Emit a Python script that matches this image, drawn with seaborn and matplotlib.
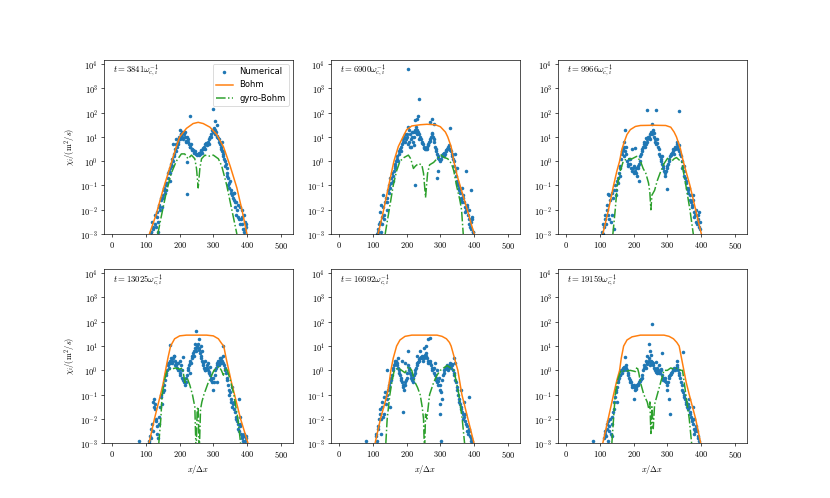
"""
plot.py - chi_i profiles: numerical vs Bohm / gyro-Bohm, six time slices
"""

import numpy as np
import matplotlib
matplotlib.use("Agg")
import matplotlib.pyplot as plt
from matplotlib.ticker import FixedLocator, FuncFormatter, NullLocator
import seaborn as sns

plt.rcParams["mathtext.fontset"] = "cm"

nan = np.nan

# ── Data (log10 of chi_i in m^2/s) ─────────────────────────────────────────────
TIMES = [3841, 6900, 9966, 13025, 16092, 19159]

XGRID = [100, 104, 108, 112, 116, 120, 124, 128, 132, 136,
         140, 144, 148, 152, 156, 160, 164, 168, 172, 176,
         180, 184, 188, 192, 196, 200, 204, 208, 212, 216,
         220, 224, 228, 232, 236, 240, 244, 248, 252, 256,
         260, 264, 268, 272, 276, 280, 284, 288, 292, 296,
         300, 304, 308, 312, 316, 320, 324, 328, 332, 336,
         340, 344, 348, 352, 356, 360, 364, 368, 372, 376,
         380, 384, 388, 392, 396, 400]
XGRID2 = [102, 106, 110, 114, 118, 122, 126, 130, 134, 138,
          142, 146, 150, 154, 158, 162, 166, 170, 174, 178,
          182, 186, 190, 194, 198, 202, 206, 210, 214, 218,
          222, 226, 230, 234, 238, 242, 246, 250, 254, 258,
          262, 266, 270, 274, 278, 282, 286, 290, 294, 298,
          302, 306, 310, 314, 318, 322, 326, 330, 334, 338,
          342, 346, 350, 354, 358, 362, 366, 370, 374, 378,
          382, 386, 390, 394, 398]

# panel 1: t = 3841
NUM1 = [nan, nan, nan, nan, -2.9, -2.7, nan, -2.6, -2.3, -2.9,
        -1.8, -1.5, -1.9, -1.2, -1.3, -0.9, -0.7, -0.4, -0.5, -0.2,
        0.0, 0.3, 0.4, 0.6, 0.8, 0.9, 1.1, 1.2, 1.1, 1.0,
        0.85, 0.9, 0.7, 0.6, 0.5, 0.45, 0.35, 0.3, 0.25, 0.35,
        0.3, 0.4, 0.5, 0.6, 0.7, 0.65, 0.8, 0.9, 1.1, 1.3,
        1.25, 1.3, 1.2, 1.0, 0.9, 0.7, 0.5, 0.3, 0.1, -0.2,
        -0.5, -0.7, -1.1, -1.2, -1.4, -1.6, -1.9, -2.2, -1.8, -2.4,
        -2.6, -2.3, -2.8, -2.9, -2.7, nan]
NUM1B = [nan, nan, nan, -2.9, -2.5, -2.8, -2.2, -2.7, -2.1, -1.9,
         -2.0, -1.6, -1.4, -1.1, -1.0, -0.9, -0.5, -0.3, -0.1, 0.1,
         0.2, 0.5, 0.7, 0.7, 1.0, 1.0, 1.0, 0.9, 1.2, 0.8,
         1.0, 0.8, 0.6, 0.7, 0.45, 0.4, 0.4, 0.3, 0.3, 0.25,
         0.45, 0.35, 0.55, 0.5, 0.75, 0.7, 0.7, 1.0, 1.0, 1.2,
         1.35, 1.1, 1.05, 0.95, 0.8, 0.6, 0.4, 0.2, 0.0, -0.1,
         -0.6, -0.9, -0.8, -1.3, -1.5, -1.3, -1.7, -2.0, -2.3, -1.9,
         -2.4, -2.6, -2.2, -2.8, -2.6]
EXTRA1_X = [230, 300, 306, 222, 222, 200, 310, 205, 190, 180, 330, 340,
            150, 135, 360, 345, 365, 385, 395, 170, 160, 325, 290, 215]
EXTRA1_Y = [1.85, 2.15, 1.65, -1.35, -0.05, 1.3, 1.5, 1.1, 0.9, 0.7, 0.4, -0.3,
            -1.5, -2.5, -1.3, -1.0, -1.7, -2.0, -2.5, -0.8, -1.2, 0.8, 1.0, 1.2]
BOHM1_X = [110, 130, 150, 170, 190, 200, 220, 240, 255, 270, 290, 310, 330, 350, 370, 385, 400]
BOHM1_Y = [-3.0, -2.2, -1.2, -0.3, 0.6, 1.0, 1.35, 1.55, 1.6, 1.55, 1.4, 1.1, 0.6, -0.2, -1.1, -2.0, -3.0]
GB1_X = [135, 145, 160, 175, 190, 205, 215, 225, 235, 245, 250, 255, 260, 265, 275, 285,
         300, 315, 325, 340, 355, 370]
GB1_Y = [-3.0, -2.3, -1.3, -0.5, 0.0, 0.3, 0.3, 0.1, 0.25, 0.1, -0.3, -1.1, -0.3, 0.1, 0.25, 0.2,
         0.25, 0.1, -0.2, -1.0, -2.0, -3.0]

# panel 2: t = 6900
NUM2 = [nan, nan, nan, -3.0, -2.9, -2.5, -1.8, -2.3, -2.4, -1.7,
        -1.5, -1.2, -1.0, -0.9, -0.5, -0.6, -0.2, 0.0, 0.2, 0.3,
        0.5, 0.6, 0.9, 1.0, 0.8, 1.1, 0.7, 1.3, 0.6, 1.0,
        0.8, 1.2, 1.4, 1.3, 1.1, 1.0, 0.8, 0.7, 0.55, 0.5,
        0.6, 0.7, 0.9, 1.0, 1.15, 0.9, 0.6, 0.4, 0.2, 0.1,
        0.0, 0.2, 0.3, 0.2, 0.4, 0.5, 0.6, 0.5, 0.4, 0.2,
        0.0, -0.4, -0.8, -1.0, -1.2, -1.5, -1.7, -1.4, -1.9, -2.0,
        -1.8, -2.4, -2.7, -2.5, -2.9, nan]
NUM2B = [nan, nan, nan, -2.8, -2.6, -2.1, -2.6, -1.9, -2.2, -1.5,
         -1.7, -1.3, -1.1, -0.7, -0.8, -0.4, -0.1, 0.1, 0.0, 0.4,
         0.4, 0.7, 0.8, 1.1, 0.9, 1.0, 0.8, 1.1, 0.9, 1.2,
         1.0, 1.3, 1.1, 1.2, 0.9, 0.9, 0.75, 0.6, 0.5, 0.55,
         0.65, 0.8, 0.85, 1.1, 1.0, 0.8, 0.5, 0.3, 0.15, 0.05,
         0.1, 0.25, 0.35, 0.3, 0.45, 0.55, 0.65, 0.45, 0.3, 0.1,
         -0.2, -0.6, -0.9, -1.1, -1.3, -1.6, -1.5, -1.7, -2.1, -1.9,
         -2.2, -2.6, -2.8, -2.4, -2.9]
EXTRA2_X = [203, 238, 235, 232, 225, 205, 215, 276, 270, 280, 330, 210, 222, 224,
            260, 290, 293, 390, 376, 130, 150, 165, 345, 350, 365, 385, 395, 140, 125]
EXTRA2_Y = [3.8, 2.55, 1.85, 1.75, 1.7, 1.4, 1.2, 1.75, 1.6, 1.55, 1.35, 0.6, 0.65, -1.0,
            0.5, -0.7, -0.4, -1.2, -0.4, -1.4, -0.7, -0.3, 0.3, -0.3, -1.1, -2.0, -2.3, -2.0, -2.9]
BOHM2_X = [115, 130, 145, 162, 175, 189, 200, 215, 240, 260, 285, 300, 315, 322, 332, 340,
           350, 365, 380, 392, 401]
BOHM2_Y = [-3.0, -2.1, -1.1, 0.0, 0.6, 1.0, 1.3, 1.45, 1.5, 1.52, 1.5, 1.42, 1.2, 1.0, 0.6, 0.0,
           -0.6, -1.3, -2.0, -2.6, -3.0]
GB2_X = [136, 148, 160, 170, 180, 192, 205, 212, 220, 226, 235, 245, 250, 256, 262, 268, 280,
         290, 302, 312, 322, 333, 340, 348, 358, 363, 368]
GB2_Y = [-3.0, -2.0, -1.0, -0.4, 0.0, 0.15, 0.25, 0.1, -0.3, -0.2, -0.1, -0.15, -0.5, -1.5, -0.5,
         -0.15, -0.05, 0.1, 0.25, 0.15, 0.1, -0.1, -0.4, -1.0, -1.6, -2.0, -3.0]

# panel 3: t = 9966
NUM3 = [nan, nan, -3.0, -2.7, -2.4, -2.0, -2.2, -1.4, -2.5, -1.3,
        -2.8, -1.0, -1.2, -0.9, -0.5, -0.2, 0.3, 0.5, 0.2, 0.6,
        0.0, -0.2, 0.1, -0.3, 0.5, -0.2, -0.4, -0.5, -0.3, -0.1,
        0.2, 0.4, 0.6, 0.8, 0.7, 0.9, 1.0, 1.1, 1.2, 1.3,
        1.0, 0.8, 0.9, 0.6, 0.3, 0.1, -0.1, -0.3, -0.6, -0.4,
        -0.2, 0.0, 0.2, 0.3, 0.4, 0.3, 0.6, 0.7, 0.5, 0.4,
        0.2, -0.3, -0.4, -0.7, -0.9, -1.3, -1.1, -1.6, -1.9, -1.6,
        -2.3, -2.0, -2.6, -2.2, -2.8, nan]
NUM3B = [nan, -2.9, -2.6, -2.2, -2.6, -1.8, -2.4, -1.6, -2.2, -1.5,
         -1.2, -1.4, -0.8, -0.7, -0.3, 0.1, 0.4, 0.6, 0.4, 0.3,
         -0.1, 0.1, -0.1, -0.4, -0.3, -0.5, -0.3, -0.6, -0.2, 0.0,
         0.3, 0.5, 0.7, 0.6, 0.8, 1.0, 0.95, 1.15, 1.1, 1.2,
         0.9, 0.7, 0.75, 0.5, 0.2, 0.0, -0.2, -0.4, -0.5, -0.3,
         -0.1, 0.1, 0.25, 0.35, 0.5, 0.5, 0.55, 0.6, 0.65, 0.3,
         0.0, -0.2, -0.6, -0.8, -1.1, -1.2, -1.4, -1.7, -1.8, -2.1,
         -2.2, -2.5, -2.4, -2.7, -2.5]
EXTRA3_X = [240, 265, 335, 253, 175, 205, 215, 300, 248, 260, 236, 285, 330, 170,
            125, 160, 350, 375, 395]
EXTRA3_Y = [2.1, 2.1, 2.05, 1.55, 1.3, 0.55, -0.8, -1.15, 0.9, 1.15, 0.95, 0.2, 0.8, 0.8,
            -1.35, -0.6, -0.2, -1.4, -2.1]
BOHM3_X = [108, 125, 140, 150, 158, 165, 172, 180, 190, 205, 220, 260, 295, 310, 320, 327,
           333, 339, 347, 357, 367, 384, 401]
BOHM3_Y = [-3.0, -2.0, -1.0, -0.4, 0.0, 0.5, 0.8, 1.1, 1.3, 1.43, 1.47, 1.48, 1.47, 1.4, 1.2, 1.0,
           0.75, 0.5, 0.0, -0.5, -1.0, -2.0, -3.0]
GB3_X = [138, 145, 151, 160, 169, 180, 195, 209, 220, 228, 236, 244, 248, 251, 254, 258, 262,
         270, 278, 290, 302, 313, 320, 327, 335, 342, 355, 367, 377]
GB3_Y = [-3.0, -2.0, -1.0, -0.4, 0.0, 0.1, 0.1, 0.2, 0.0, -0.3, -0.5, -0.9, -1.3, -2.0, -1.4, -1.3,
         -1.2, -0.8, -0.5, -0.1, 0.15, 0.0, 0.1, 0.15, 0.05, 0.0, -1.0, -2.0, -3.0]

# panel 4: t = 13025
NUM4 = [nan, nan, -3.0, -2.7, -2.8, -2.5, -1.2, -1.6, -2.3, -2.8,
        -1.9, -1.1, -1.4, -0.8, -0.4, -0.1, 0.2, 0.1, 0.4, 0.3,
        0.5, 0.6, 0.3, 0.1, 0.0, -0.1, 0.2, -0.3, -0.5, -0.6,
        -0.3, 0.0, 0.2, 0.4, 0.5, 0.7, 0.8, 0.9, 1.0, 0.9,
        0.7, 0.5, 0.3, 0.1, 0.0, 0.2, 0.0, -0.1, -0.3, -0.5,
        -0.8, -0.2, 0.1, 0.3, 0.2, 0.4, 0.3, 0.6, 0.2, 0.0,
        -0.3, -0.6, -1.0, -1.2, -1.5, -1.3, -1.7, -2.0, -2.2, -2.5,
        -2.3, -2.7, -2.9, -2.6, -2.8, nan]
NUM4B = [nan, nan, -2.9, -2.4, -2.2, -1.3, -1.4, -2.0, -2.6, -2.2,
         -1.5, -1.0, -0.9, -0.6, -0.2, 0.0, 0.3, 0.3, 0.5, 0.4,
         0.6, 0.4, 0.2, 0.3, 0.0, -0.2, 0.0, -0.4, -0.4, -0.5,
         -0.2, 0.1, 0.3, 0.3, 0.6, 0.6, 0.9, 0.8, 1.1, 0.85,
         0.6, 0.4, 0.2, 0.0, 0.1, 0.1, -0.05, -0.2, -0.4, -0.3,
         -0.5, 0.0, 0.2, 0.4, 0.3, 0.5, 0.4, 0.3, 0.1, -0.1,
         -0.4, -0.8, -0.9, -1.3, -1.4, -1.6, -1.9, -2.1, -2.4, -2.2,
         -2.6, -2.8, -2.7, -2.9, -2.7]
EXTRA4_X = [80, 170, 250, 258, 245, 262, 330, 210, 200, 185, 275, 285, 290, 310, 320,
            125, 130, 380, 375, 355, 230, 265]
EXTRA4_Y = [-2.9, 1.05, 1.6, 1.3, 1.1, 1.0, 1.0, 0.55, 0.4, 0.2, 0.4, 0.3, 0.15, -0.5, 0.5,
            -1.5, -2.1, -1.9, -1.2, -0.7, -0.1, 0.8]
BOHM4_X = [109, 125, 143, 150, 158, 165, 173, 185, 200, 220, 280, 300, 315, 325, 331, 338,
           346, 354, 363, 381, 403]
BOHM4_Y = [-3.0, -2.0, -1.0, -0.6, 0.0, 0.5, 1.0, 1.3, 1.42, 1.45, 1.45, 1.42, 1.3, 1.1, 1.0, 0.5,
           0.0, -0.5, -1.0, -2.0, -3.0]
GB4_X = [138, 144, 148, 155, 163, 175, 188, 200, 208, 216, 222, 230, 238, 245, 249, 252, 255,
         258, 262, 266, 272, 285, 302, 310, 317, 324, 330, 336, 342, 352, 361, 373, 381]
GB4_Y = [-3.0, -2.0, -1.0, -0.4, 0.0, 0.05, 0.1, 0.05, 0.1, -0.5, -0.3, -0.6, -1.0, -1.5, -3.5,
         -1.6, -1.5, -3.5, -1.6, -1.3, -1.0, -0.5, 0.0, 0.1, 0.15, 0.0, -0.2, 0.1, 0.0, -0.5,
         -1.0, -2.0, -3.0]

# panel 5: t = 16092
NUM5 = [nan, nan, -2.6, -2.9, -2.3, -1.6, -2.0, -1.3, -1.8, -0.9,
        -1.2, -0.8, -0.6, -0.4, -0.2, 0.1, 0.3, 0.4, 0.2, 0.0,
        -0.2, -0.4, -0.6, -0.8, -0.5, -0.3, 0.2, 0.0, -0.2, -0.4,
        -0.3, -0.1, 0.1, 0.3, 0.4, 0.5, 0.6, 0.4, 0.6, 0.7,
        0.5, 0.3, 0.4, 0.2, 0.0, 0.1, -0.2, -0.4, -0.6, -0.3,
        -0.8, -1.2, -0.2, 0.0, 0.1, 0.2, 0.0, 0.3, 0.1, 0.2,
        -0.1, -0.4, -0.7, -1.0, -1.3, -1.5, -1.7, -2.0, -1.8, -2.2,
        -2.5, -2.4, -2.7, -2.9, nan, nan]
NUM5B = [nan, nan, -2.7, -2.4, -2.0, -1.8, -1.5, -1.9, -1.1, -1.4,
         -1.0, -0.7, -0.5, -0.3, 0.0, 0.2, 0.4, 0.3, 0.1, -0.1,
         -0.3, -0.5, -0.7, -0.6, -0.4, -0.1, 0.1, -0.1, -0.3, -0.5,
         -0.2, 0.0, 0.2, 0.35, 0.45, 0.55, 0.5, 0.5, 0.65, 0.6,
         0.4, 0.35, 0.3, 0.1, 0.05, -0.1, -0.3, -0.5, -0.45, -0.6,
         -0.9, -0.4, -0.1, 0.05, 0.15, 0.1, 0.15, 0.2, 0.25, 0.0,
         -0.2, -0.5, -0.8, -1.2, -1.4, -1.6, -1.8, -1.9, -2.1, -2.3,
         -2.6, -2.5, -2.8, -2.9, nan]
EXTRA5_X = [80, 140, 190, 205, 195, 262, 268, 258, 250, 240, 300, 303, 300, 385, 345,
            340, 185, 175, 230, 285, 290, 125, 150, 360, 370]
EXTRA5_Y = [-2.9, 0.0, -1.7, 0.8, 0.3, 1.3, 1.35, 1.0, 0.9, 0.8, -1.8, -2.9, -1.4, -1.1, 0.3,
            0.5, 0.4, 0.5, 0.6, 0.3, 0.0, -2.6, -1.5, -0.8, -1.3]
BOHM5_X = [106, 122, 142, 148, 153, 160, 170, 180, 195, 215, 290, 305, 318, 327, 332, 342,
           352, 358, 364, 382, 400]
BOHM5_Y = [-3.0, -2.0, -1.0, -0.5, 0.0, 0.5, 1.0, 1.25, 1.4, 1.45, 1.45, 1.4, 1.3, 1.15, 1.0, 0.5,
           0.0, -0.5, -1.0, -2.0, -3.0]
GB5_X = [138, 142, 150, 157, 163, 175, 185, 195, 205, 215, 225, 232, 240, 246, 250, 253, 256,
         260, 264, 268, 280, 290, 300, 310, 320, 330, 340, 348, 355, 365, 372]
GB5_Y = [-3.0, -2.0, -1.0, -0.4, 0.0, 0.1, 0.0, -0.1, 0.15, 0.0, -0.5, -0.7, -1.0, -1.5, -2.0,
         -3.5, -1.8, -2.0, -1.5, -1.0, -0.5, -0.2, 0.0, 0.1, 0.2, 0.1, 0.0, -0.5, -1.0, -2.0, -3.0]

# panel 6: t = 19159
NUM6 = [nan, nan, nan, -2.8, -2.5, -2.4, -2.1, -2.3, -2.6, -1.9,
        -1.6, -1.1, -0.8, -0.5, -0.3, -0.2, -0.1, 0.1, 0.0, 0.2,
        0.0, -0.2, -0.4, -0.5, -0.7, -0.6, -0.8, -0.7, -0.6, -0.5,
        -0.4, -0.3, 0.0, 0.2, 0.1, 0.3, 0.5, 0.2, 0.4, 0.3,
        0.1, 0.0, -0.1, 0.0, -0.1, 0.0, -0.2, -0.4, -0.3, -0.5,
        -0.8, -0.3, -0.2, -0.1, 0.0, 0.1, 0.0, 0.2, 0.0, -0.2,
        -0.5, -0.8, -1.0, -1.2, -1.4, -1.6, -1.5, -1.8, -2.0, -2.2,
        -2.6, -2.3, -2.5, -2.8, nan, nan]
NUM6B = [nan, nan, nan, -2.6, -2.7, -2.2, -2.5, -2.0, -2.2, -1.7,
         -1.3, -0.9, -0.7, -0.4, -0.2, 0.0, 0.0, 0.15, 0.1, 0.1,
         -0.1, -0.3, -0.5, -0.6, -0.65, -0.7, -0.75, -0.6, -0.55, -0.45,
         -0.35, -0.2, 0.1, 0.15, 0.25, 0.35, 0.4, 0.3, 0.35, 0.2,
         0.05, -0.05, 0.05, -0.05, -0.1, 0.05, -0.3, -0.35, -0.45, -0.6,
         -0.5, -0.25, -0.15, -0.05, 0.05, 0.05, 0.1, 0.15, -0.1, -0.3,
         -0.6, -0.9, -1.1, -1.3, -1.5, -1.4, -1.7, -1.9, -2.1, -2.4,
         -2.5, -2.4, -2.7, -2.9, nan]
EXTRA6_X = [80, 255, 245, 248, 250, 175, 200, 210, 265, 285, 305, 308, 330, 345, 235,
            240, 270, 275, 125, 135, 150, 365, 375, 380]
EXTRA6_Y = [-2.9, 1.9, 1.1, 0.8, 0.65, 0.55, -1.2, -0.6, 0.35, 0.7, -1.2, -1.8, 0.4, 0.75, 0.4,
            0.6, 0.1, 0.2, -2.9, -2.7, -1.3, -1.2, -1.5, -2.0]
BOHM6_X = [108, 124, 140, 150, 158, 163, 170, 180, 195, 220, 290, 305, 318, 328, 335, 342,
           349, 356, 365, 384, 399]
BOHM6_Y = [-3.0, -2.0, -1.0, -0.4, 0.0, 0.5, 1.0, 1.25, 1.38, 1.45, 1.45, 1.4, 1.3, 1.15, 1.0, 0.5,
           0.0, -0.5, -1.0, -2.0, -3.0]
GB6_X = [135, 140, 145, 152, 162, 175, 190, 205, 210, 215, 220, 230, 240, 245, 248, 251, 254,
         258, 262, 270, 280, 290, 300, 310, 320, 330, 340, 345, 350, 355, 365, 372]
GB6_Y = [-3.0, -2.0, -1.0, -0.4, 0.0, -0.05, 0.0, -0.05, 0.15, -0.1, -0.5, -1.0, -1.3, -1.6, -1.3,
         -2.6, -1.5, -2.4, -1.4, -1.0, -0.5, 0.0, 0.0, 0.1, 0.05, 0.1, 0.0, 0.0, -0.5, -1.0, -2.0, -3.0]

NUM = [NUM1, NUM2, NUM3, NUM4, NUM5, NUM6]
NUMB = [NUM1B, NUM2B, NUM3B, NUM4B, NUM5B, NUM6B]
EXTRA_X = [EXTRA1_X, EXTRA2_X, EXTRA3_X, EXTRA4_X, EXTRA5_X, EXTRA6_X]
EXTRA_Y = [EXTRA1_Y, EXTRA2_Y, EXTRA3_Y, EXTRA4_Y, EXTRA5_Y, EXTRA6_Y]
BOHM_X = [BOHM1_X, BOHM2_X, BOHM3_X, BOHM4_X, BOHM5_X, BOHM6_X]
BOHM_Y = [BOHM1_Y, BOHM2_Y, BOHM3_Y, BOHM4_Y, BOHM5_Y, BOHM6_Y]
GB_X = [GB1_X, GB2_X, GB3_X, GB4_X, GB5_X, GB6_X]
GB_Y = [GB1_Y, GB2_Y, GB3_Y, GB4_Y, GB5_Y, GB6_Y]

BLUE, ORANGE, GREEN = "#1f77b4", "#ff7f0e", "#2ca02c"

# ── Figure ─────────────────────────────────────────────────────────────────────
fig, axes = plt.subplots(2, 3, figsize=(830 / 60, 498 / 60), dpi=60)

for k, ax in enumerate(axes.flat):
    ax.set_yscale("log")
    sns.scatterplot(x=XGRID, y=10 ** np.array(NUM[k]), ax=ax, color=BLUE,
                    s=18, linewidth=0, label="Numerical", legend=False)
    sns.scatterplot(x=XGRID2, y=10 ** np.array(NUMB[k]), ax=ax, color=BLUE,
                    s=18, linewidth=0, legend=False)
    sns.scatterplot(x=EXTRA_X[k], y=10 ** np.array(EXTRA_Y[k]), ax=ax, color=BLUE,
                    s=18, linewidth=0, legend=False)
    sns.lineplot(x=BOHM_X[k], y=10 ** np.array(BOHM_Y[k]), ax=ax, color=ORANGE,
                 lw=1.8, sort=False, label="Bohm", legend=False)
    sns.lineplot(x=GB_X[k], y=10 ** np.array(GB_Y[k]), ax=ax, color=GREEN,
                 lw=1.8, ls="-.", sort=False, label="gyro-Bohm", legend=False)

    ax.set_xlim(-25.6, 536.6)
    ax.set_ylim(1e-3, 1.5e4)
    ax.yaxis.set_major_locator(FixedLocator([10.0 ** p for p in range(-3, 5)]))
    ax.yaxis.set_minor_locator(NullLocator())
    ax.yaxis.set_major_formatter(FuncFormatter(lambda v, _: r"$10^{%d}$" % round(np.log10(v))))
    ax.set_xticks([0, 100, 200, 300, 400, 500])
    ax.xaxis.set_major_formatter(FuncFormatter(lambda v, _: r"$%d$" % v))
    ax.text(0.05, 0.935, r"$t = %d\omega_{c,i}^{-1}$" % TIMES[k],
            transform=ax.transAxes, va="center", ha="left", fontsize=10.5)

    ax.set_xlabel(r"$x/\Delta x$" if k >= 3 else "")
    ax.set_ylabel(r"$\chi_i/(\mathrm{m}^2/s)$" if k % 3 == 0 else "")

axes[0, 0].legend(loc="upper right")

fig.savefig("out.png", dpi=60)
